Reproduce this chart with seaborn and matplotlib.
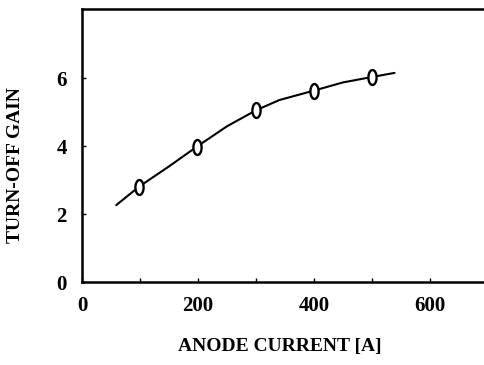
import numpy as np
import pandas as pd
import matplotlib
matplotlib.use("Agg")
import matplotlib.pyplot as plt
from matplotlib.path import Path
import seaborn as sns

# Measured points
current = [98, 198, 300, 400, 500]
gain = [2.8, 3.98, 5.05, 5.63, 6.03]

# Fitted curve
curve_current = [59, 98, 150, 198, 250, 300, 340, 400, 450, 500, 539]
curve_gain = [2.26, 2.8, 3.4, 3.98, 4.58, 5.05, 5.35, 5.63, 5.87, 6.03, 6.15]

x_ticks = [0, 200, 400, 600]
y_ticks = [0, 2, 4, 6]

sns.set_style("ticks")
plt.rcParams['font.family'] = ['Liberation Serif', 'DejaVu Serif']
plt.rcParams['text.color'] = 'black'
plt.rcParams['axes.labelcolor'] = 'black'
plt.rcParams['xtick.color'] = 'black'
plt.rcParams['ytick.color'] = 'black'

W, H = 484, 365
L, B, R, T = 82, 282, 484, 9
fig = plt.figure(figsize=(W / 100, H / 100), dpi=100)
ax = fig.add_axes([L / W, 1 - B / H, (R - L) / W, (B - T) / H])

curve_df = pd.DataFrame({'I': curve_current, 'G': curve_gain})
pts_df = pd.DataFrame({'I': current, 'G': gain})

sns.lineplot(data=curve_df, x='I', y='G', color='black', lw=1.5, ax=ax)

# tall open oval marker, like a "0"
t = np.linspace(0, 2 * np.pi, 60)
oval = Path(np.column_stack([0.55 * np.cos(t), np.sin(t)]), closed=True)
sns.scatterplot(data=pts_df, x='I', y='G', marker=oval, s=115, facecolor='white',
                edgecolor='black', linewidth=1.7, zorder=3, ax=ax)

ax.set_xlim(0, (R - 84) / 0.577)
ax.set_ylim(0, 8.03)
ax.set_xticks(x_ticks)
ax.set_yticks(y_ticks)
ax.set_xticks(np.arange(100, 700, 100), minor=True)
ax.tick_params(which='both', direction='in', length=3, width=1)
ax.tick_params(axis='y', labelsize=15, pad=11)
ax.tick_params(axis='x', labelsize=15, pad=10)
for lab in ax.get_xticklabels() + ax.get_yticklabels():
    lab.set_fontweight('bold')

for side in ['left', 'bottom', 'top']:
    ax.spines[side].set_linewidth(1.8)
    ax.spines[side].set_color('black')
ax.spines['right'].set_visible(False)

ax.set_xlabel('ANODE CURRENT [A]', fontsize=14, fontweight='bold')
ax.set_ylabel('TURN-OFF GAIN', fontsize=14, fontweight='bold')
ax.xaxis.set_label_coords((280 - L) / (R - L), -(338 - B) / (B - T))
ax.yaxis.set_label_coords(-(L - 24) / (R - L), (B - 165) / (B - T))

fig.savefig('out.png', dpi=100)
